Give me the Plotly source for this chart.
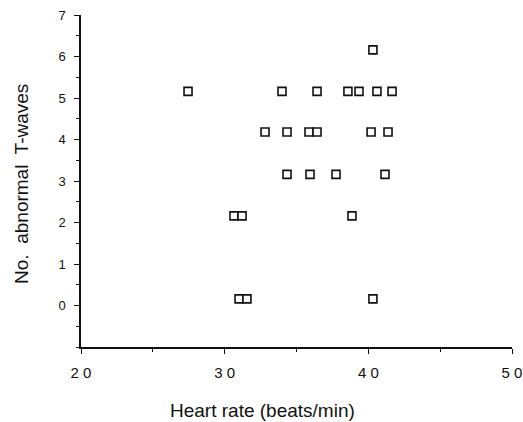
"""Scatter of abnormal T-wave count against heart rate."""
import plotly.graph_objects as go

# values
heart_rate = [
    27.45, 33.99, 36.43, 38.58, 39.35, 40.60, 41.65,   # row ~5
    40.32,                                             # row ~6
    32.81, 34.34, 35.87, 36.43, 40.19, 41.37,          # row ~4
    34.34, 35.94, 37.75, 41.16,                        # row ~3
    30.65, 31.21, 38.86,                               # row ~2
    31.00, 31.55, 40.32,                               # row ~0
]
t_waves = [
    5.16, 5.16, 5.16, 5.16, 5.16, 5.16, 5.16,
    6.16,
    4.18, 4.18, 4.18, 4.18, 4.18, 4.18,
    3.16, 3.16, 3.16, 3.16,
    2.16, 2.16, 2.16,
    0.16, 0.16, 0.16,
]

x_ticks = [20, 30, 40, 50]
x_tick_text = ["2 0", "3 0", "4 0", "5 0"]
y_ticks = [0, 1, 2, 3, 4, 5, 6, 7]

INK = "#111111"
FONT = "Liberation Sans, Arial, sans-serif"

fig = go.Figure()
fig.add_scatter(
    x=heart_rate, y=t_waves, mode="markers",
    marker=dict(symbol="square", size=8, color="white",
                line=dict(color=INK, width=1.6)),
    showlegend=False, cliponaxis=False,
)

fig.update_xaxes(
    range=[20, 50], tickvals=x_ticks, ticktext=x_tick_text,
    automargin=False, ticklabeloverflow="allow",
    showline=True, linecolor=INK, linewidth=1.5, showgrid=False, zeroline=False,
    ticks="outside", ticklen=5, tickwidth=1.2, tickcolor=INK,
    tickfont=dict(size=15, color=INK, family=FONT), ticklabelstandoff=6,
    minor=dict(dtick=5, ticks="outside", ticklen=3, tickcolor=INK, showgrid=False),
)
fig.update_yaxes(
    range=[-1, 7], tickvals=y_ticks,
    automargin=False, ticklabeloverflow="allow",
    showline=True, linecolor=INK, linewidth=1.5, showgrid=False, zeroline=False,
    ticks="outside", ticklen=5, tickwidth=1.2, tickcolor=INK,
    tickfont=dict(size=13, color=INK, family=FONT), ticklabelstandoff=6,
    minor=dict(dtick=0.5, ticks="outside", ticklen=3, tickcolor=INK, showgrid=False),
)

# axis titles as annotations so they sit where the original has them
fig.add_annotation(text="Heart rate (beats/min)", xref="paper", yref="paper",
                   x=0.42, y=-0.19, showarrow=False, xanchor="center", yanchor="middle",
                   font=dict(size=19, color=INK, family=FONT))
fig.add_annotation(text="No.  abnormal  T-waves", xref="paper", yref="paper",
                   x=-0.137, y=0.491, textangle=-90, showarrow=False,
                   xanchor="center", yanchor="middle",
                   font=dict(size=19, color=INK, family=FONT))

fig.update_layout(
    width=523, height=422,
    margin=dict(l=81, r=11, t=15, b=75),
    plot_bgcolor="white", paper_bgcolor="white",
    font=dict(family=FONT, color=INK),
)

# drop the browser's default body margin so the figure fills the window exactly
fig.write_html("out.html", config={"displayModeBar": False},
               post_script="document.body.style.margin = '0';")
